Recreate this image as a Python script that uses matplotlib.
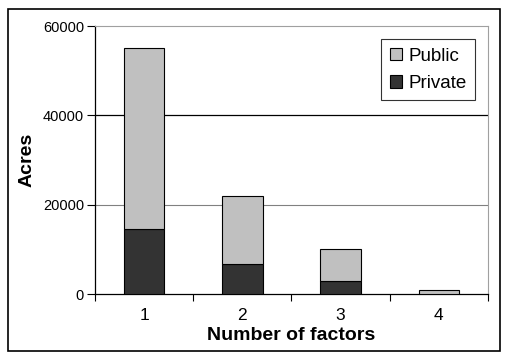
import matplotlib.pyplot as plt
import numpy as np
from matplotlib.patches import Rectangle

plt.rcParams['font.family'] = ['Liberation Sans', 'DejaVu Sans']

# Data
categories = ['1', '2', '3', '4']
private = [14500, 6700, 2800, 100]
public = [40500, 15300, 7200, 700]
y_ticks = [0, 20000, 40000, 60000]

fig = plt.figure(figsize=(5.10, 3.58), dpi=100)
ax = fig.add_axes([95 / 510, 1 - 294 / 358, (488 - 95) / 510, (294 - 26) / 358])

# outer frame around the whole chart
fig.patches.append(Rectangle((8 / 510, 1 - 351 / 358), 492 / 510, 342 / 358,
                             transform=fig.transFigure, fill=False,
                             edgecolor='black', linewidth=1.2))

x = np.arange(len(categories))
ax.bar(x, private, width=0.41, color='#333333', edgecolor='black', linewidth=0.8,
       label='Private', zorder=3)
ax.bar(x, public, width=0.41, bottom=private, color='#c0c0c0', edgecolor='black',
       linewidth=0.8, label='Public', zorder=3)

ax.set_xlim(-0.5, len(categories) - 0.5)
ax.set_ylim(0, 60000)
ax.set_yticks(y_ticks)
ax.set_yticklabels([str(v) for v in y_ticks], fontsize=10.5)

# horizontal gridlines (40000 drawn black as in the original)
ax.axhline(20000, color='#808080', linewidth=0.8, zorder=1)
ax.axhline(40000, color='black', linewidth=0.9, zorder=1)

ax.set_xticks(x)
ax.set_xticklabels(categories, fontsize=12.5)
ax.set_xticks(np.arange(len(categories) + 1) - 0.5, minor=True)
ax.tick_params(axis='x', which='major', length=0, pad=10)
ax.tick_params(axis='x', which='minor', length=5, width=0.8, direction='out')
ax.tick_params(axis='y', length=6, width=0.8, direction='out', pad=2)

for side in ['top', 'right']:
    ax.spines[side].set_color('#a0a0a0')
    ax.spines[side].set_linewidth(0.8)
for side in ['left', 'bottom']:
    ax.spines[side].set_color('black')
    ax.spines[side].set_linewidth(0.9)

ax.set_xlabel('Number of factors', fontsize=14, fontweight='bold', labelpad=3)
ax.set_ylabel('Acres', fontsize=14, fontweight='bold', labelpad=5)

handles, labels = ax.get_legend_handles_labels()
leg = ax.legend(handles[::-1], labels[::-1], loc='upper right',
                bbox_to_anchor=(0.967, 0.951), borderaxespad=0, fontsize=13.5,
                frameon=True, fancybox=False, edgecolor='black',
                handlelength=0.65, handleheight=0.65, handletextpad=0.35,
                labelspacing=0.55, borderpad=0.45)
leg.get_frame().set_linewidth(0.8)

plt.savefig('out.png', dpi=100)
